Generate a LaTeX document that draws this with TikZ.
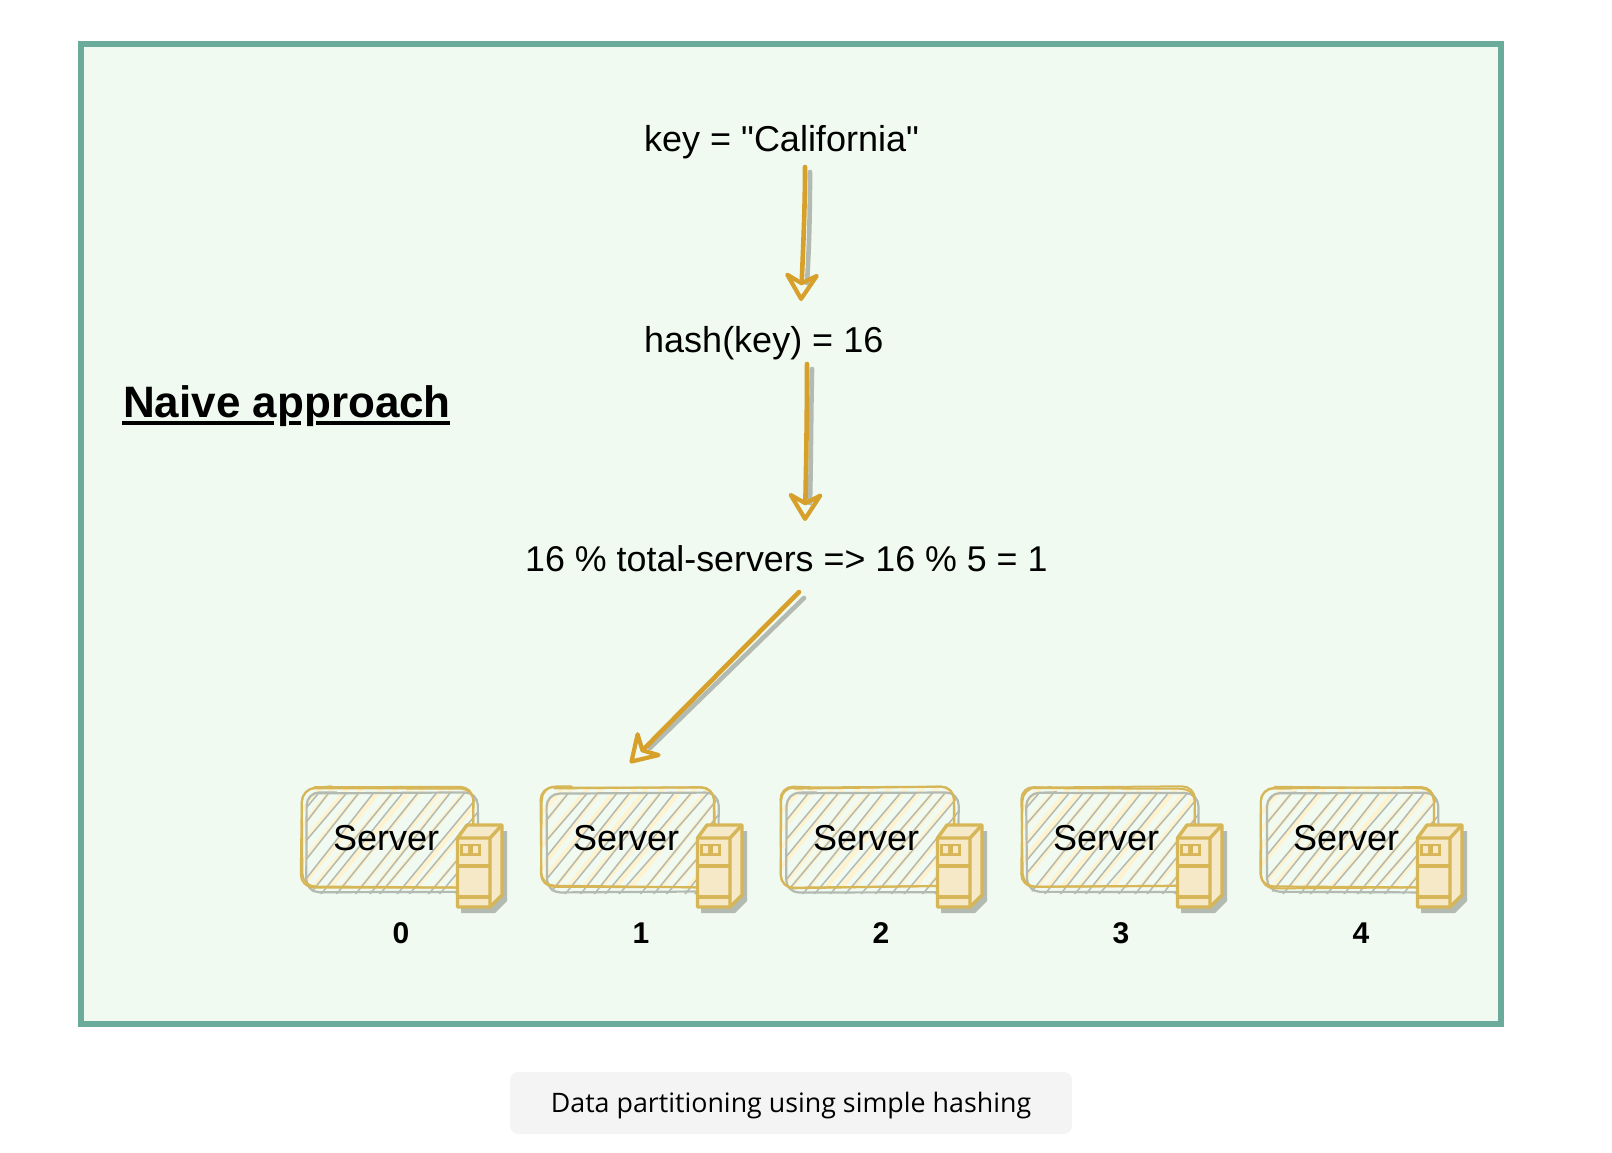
\documentclass[tikz,border=0pt]{standalone}
\usepackage{fontspec}
\usetikzlibrary{arrows.meta}
\newfontfamily\helv{Liberation Sans}
\newfontfamily\capfont{Open Sans}
\definecolor{frameC}{HTML}{6AAB9C}
\definecolor{bgC}{HTML}{F0FAF0}
\definecolor{arrowC}{HTML}{D6A02A}
\definecolor{yellowC}{HTML}{D6B656}
\definecolor{hatchC}{HTML}{FFF2CC}
\definecolor{iconC}{HTML}{F5E9C8}
\definecolor{shadowC}{HTML}{B3BAB2}
\definecolor{capC}{HTML}{F4F4F4}
\tikzset{
  label36/.style={font=\helv\fontsize{36}{40}\selectfont,anchor=base west,inner sep=0pt,text=black},
  numlabel/.style={font=\helv\bfseries\fontsize{30}{34}\selectfont,anchor=base,inner sep=0pt,text=black},
  arrowline/.style={line width=4.6pt,draw=arrowC,line cap=round,-{Stealth[open,length=33pt,width=41pt,inset=11pt,line width=4.2pt,round]}},
  shadowline/.style={line width=4.6pt,draw=shadowC,line cap=round},
  outlineY/.style={draw=yellowC,line width=2pt,rounded corners=13pt,line cap=round},
  outlineG/.style={draw=shadowC,line width=2.2pt,rounded corners=13pt,line cap=round},
  hatchY/.style={draw=hatchC,line width=4pt},
  hatchG/.style={draw=shadowC,line width=1.5pt},
  iconline/.style={draw=yellowC,line width=3.4pt,line join=round,fill=iconC},
}
\newcommand{\sketchrect}[6]{% style, x0, y0, x1, y1, jitter
  \draw[#1] ({#2+13},{#3+rnd*#6-#6/2}) -- ({#4+rnd*#6-#6/2},{#3+rnd*#6-#6/2})
    -- ({#4+rnd*#6-#6/2},{#5+rnd*#6-#6/2}) -- ({#2+rnd*#6-#6/2},{#5+rnd*#6-#6/2})
    -- ({#2+rnd*#6-#6/2},{#3+rnd*#6-#6/2}) -- ({#2+30},{#3+rnd*#6-#6/2});
}
\begin{document}
\begin{tikzpicture}[x=1pt,y=-1pt]
\useasboundingbox (0,0) rectangle (1612,1152);
\pgfmathsetseed{7}
\draw[draw=frameC,fill=bgC,line width=6pt] (81,44) rectangle (1501,1024);

\node[label36] (key) at (644,151) {key = "California"};
\node[label36] (hash) at (644,352) {hash(key) = 16};
\node[label36,font=\helv\fontsize{35.8}{40}\selectfont] (calc) at (525,571) {16 \% total-servers => 16 \% 5 = 1};
\node[font=\helv\bfseries\fontsize{44}{48}\selectfont,anchor=base west,inner sep=0pt] (title) at (123,417) {Naive approach};
\draw[line width=4pt] (122,423) -- (274,423) (289,423) -- (301,423) (316,423) -- (450,423);

% arrows
\coordinate (a1s) at (805,167); \coordinate (a1e) at (801,301);
\coordinate (a2s) at (807,364); \coordinate (a2e) at (805,521);
\coordinate (a3s) at (799,592); \coordinate (a3e) at (630,763);
\draw[shadowline] (810,172) .. controls (810,215) and (809,250) .. (807,283);
\draw[shadowline] (812,369) .. controls (811,420) and (811,460) .. (810,503);
\draw[shadowline] (804,598) -- (650,748);
\draw[arrowline] (a1s) .. controls (805,210) and (803,250) .. (a1e);
\draw[arrowline] (a2s) .. controls (807,420) and (806,470) .. (a2e);
\draw[arrowline] (a3s) -- (a3e);

% servers
\foreach \i/\xx in {0/301.5,1/541.5,2/781.5,3/1021.5,4/1261.5}{
  \begin{scope}
    \clip[rounded corners=13pt] (\xx,788) rectangle (\xx+173,888);
    \foreach \h in {-100,-85,...,180}{
      \draw[hatchY] ({\xx+\h+7*rnd},892) -- ({\xx+\h+88+7*rnd},784);
    }
  \end{scope}
  \begin{scope}
    \clip[rounded corners=13pt] (\xx+5,793) rectangle (\xx+177,894);
    \foreach \h in {-90,-75,...,180}{
      \draw[hatchG] ({\xx+\h+7*rnd},897) -- ({\xx+\h+90+7*rnd},788);
    }
  \end{scope}
  \sketchrect{outlineG}{\xx+5}{793}{\xx+177}{892}{1.5}
  \sketchrect{outlineY}{\xx}{787.5}{\xx+173}{887}{3}
  \sketchrect{outlineY}{\xx}{787.5}{\xx+173}{887}{3}
  \node[label36] (srv\i) at (\xx+31.5,850) {Server};
  \node[numlabel] (num\i) at (\xx+99.5,943) {\i};
  \begin{scope}[shift={(\xx-1.5,0)}]
    \fill[shadowC] (161,844) -- (171,831) -- (207,831) -- (207,901) -- (195,913) -- (161,913) -- cycle;
    \draw[iconline] (157.5,838) -- (167,825) -- (202,825) -- (202,895) -- (190,907) -- (157.5,907) -- cycle;
    \draw[iconline,fill=none] (157.5,838) -- (190,838) -- (202,825) (190,838) -- (190,907);
    \draw[draw=yellowC,line width=3.4pt] (157.5,866) -- (190,866) (157.5,897) -- (190,897);
    \fill[yellowC] (160,843.5) rectangle (181,855.5);
    \fill[iconC] (163,846) rectangle (168,853) (173,846) rectangle (178,853);
  \end{scope}
}

% caption
\node[fill=capC,rounded corners=8pt,minimum width=562pt,minimum height=62pt,inner sep=0pt,font=\capfont\fontsize{26.8}{30}\selectfont] (cap) at (791,1103) {\raisebox{-9.5pt}[0pt][0pt]{Data partitioning using simple hashing}};
\end{tikzpicture}
\end{document}
